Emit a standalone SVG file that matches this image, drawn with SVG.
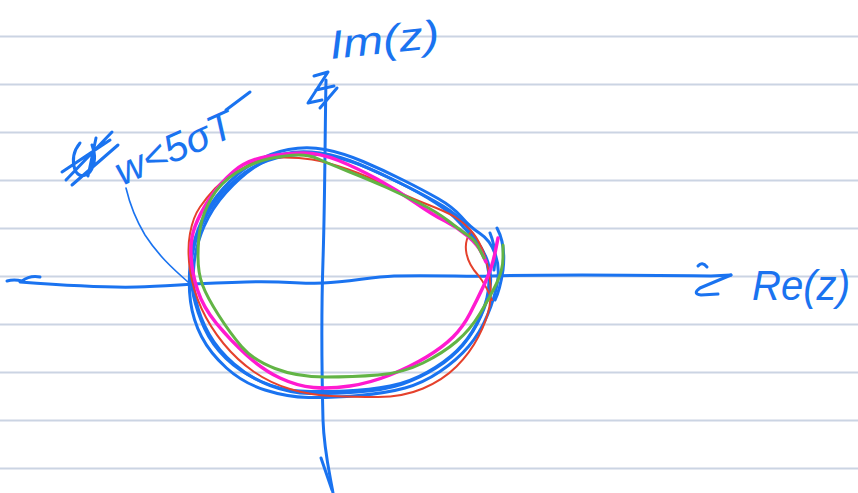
<svg xmlns="http://www.w3.org/2000/svg" width="858" height="493" viewBox="0 0 858 493">
<style>
.rule{stroke:#cbd4e3;stroke-width:2;fill:none}
.ink{fill:none;stroke-linecap:round;stroke-linejoin:round}
.b{stroke:#1a73f0;stroke-width:3}
.bt{stroke:#1a73f0;stroke-width:1.6}
.r{stroke:#e5412c;stroke-width:2}
.m{stroke:#ff1ad0;stroke-width:3.5}
.g{stroke:#62b445;stroke-width:3}
.hand{font-family:"Liberation Sans",Arial,sans-serif;fill:#1a73f0;font-style:italic}
</style>
<rect width="858" height="493" fill="#ffffff"/>
<g id="paper">
<line class="rule" x1="0" y1="36.5" x2="858" y2="36.5"/>
<line class="rule" x1="0" y1="84.5" x2="858" y2="84.5"/>
<line class="rule" x1="0" y1="132.5" x2="858" y2="132.5"/>
<line class="rule" x1="0" y1="180.5" x2="858" y2="180.5"/>
<line class="rule" x1="0" y1="228.5" x2="858" y2="228.5"/>
<line class="rule" x1="0" y1="276.5" x2="858" y2="276.5"/>
<line class="rule" x1="0" y1="324.5" x2="858" y2="324.5"/>
<line class="rule" x1="0" y1="372.5" x2="858" y2="372.5"/>
<line class="rule" x1="0" y1="420.5" x2="858" y2="420.5"/>
<line class="rule" x1="0" y1="468.5" x2="858" y2="468.5"/>
</g>
<g id="connectors">
<path id="re-axis" class="ink b" d="M20,282 C60,285 100,288 137,287 C170,286 200,283 246,282 C290,281 300,284 323,283 C350,282 370,277 394,276 C440,275 470,277 492,276 C560,274 640,275 711,276 L731,275"/>
<path class="ink b" d="M7,281 Q14,279 22,281 Q30,275 40,277"/>
<path class="ink b" d="M698,266 Q702,261 707,267 M731,275 L700,288 Q692,294 701,295 L718,294"/>
<path id="im-axis" class="ink b" d="M326,80 C325,130 325,200 323,260 C321,320 322,380 323,420 C324,450 329,470 333,493"/>
<path class="ink b" d="M321,458 L332,490"/>
<path id="pointer" class="ink bt" d="M126,188 C130,205 136,220 145,235 C158,255 172,268 188,282"/>
</g>
<g id="curves">
<path class="ink b" d="M325,149.5 Q343,153 363,161.5 Q383,170 403,180 Q423,190 438,198.5 Q453,207 461.5,217 Q470,227 480,233.5 Q490,240 495,253.5 Q500,267 497.5,282 Q495,297 487.5,315 Q480,333 468.5,346.5 Q457,360 440,371.5 Q423,383 405,388 Q387,393 358.5,395.5 Q330,398 308.5,397.5 Q287,397 265,390 Q243,383 226.5,368 Q210,353 201.5,336.5 Q193,320 190.5,301.5 Q188,283 190.5,261.5 Q193,240 201.5,221.5 Q210,203 223.5,188 Q237,173 253.5,163 Q270,153 288.5,149.5 Q307,146 325,149.5 Z"/>
<path class="ink b" d="M320,153 Q340,156 360,164.5 Q380,173 400,183 Q420,193 435,202.5 Q450,212 459,222 Q468,232 476,241 Q484,250 488,262.5 Q492,275 490,287.5 Q488,300 481,316 Q474,332 463,345 Q452,358 436,368 Q420,378 402.5,384 Q385,390 357.5,392 Q330,394 310,393.5 Q290,393 270,385.5 Q250,378 234,364 Q218,350 209,334 Q200,318 196,300.5 Q192,283 194,264 Q196,245 204,226.5 Q212,208 226,192.5 Q240,177 254,167.5 Q268,158 284,154 Q300,150 320,153 Z"/>
<path class="ink b" d="M330,156 Q350,160 370,169 Q390,178 409,187.5 Q428,197 443,206 Q458,215 466.5,226 Q475,237 481,247.5 Q487,258 488.5,271.5 Q490,285 487,297.5 Q484,310 476,325 Q468,340 456.5,351 Q445,362 427.5,372 Q410,382 390,386 Q370,390 345,391 Q320,392 300,391 Q280,390 260,381 Q240,372 226,358.5 Q212,345 204.5,328.5 Q197,312 193.5,296 Q190,280 191,265 Q192,250 198.5,232.5 Q205,215 216.5,200 Q228,185 245,172.5 Q262,160 286,156 Q310,152 330,156 Z"/>
<path class="ink b" d="M497,228 Q506,245 503,270 Q500,290 495,300 M490,233 Q497,250 494,270"/>
<path class="ink r" d="M278.5,157.5 Q297,157 312,159.5 Q327,162 348.5,169.5 Q370,177 386.5,186 Q403,195 425,203.5 Q447,212 455,217 Q463,222 470,229.5 Q477,237 482,248.5 Q487,260 489.5,276.5 Q492,293 489.5,306.5 Q487,320 478.5,336.5 Q470,353 456.5,366.5 Q443,380 423,388.5 Q403,397 378,397 Q353,397 331.5,396 Q310,395 290,389 Q270,383 253.5,371.5 Q237,360 223.5,343.5 Q210,327 201.5,308.5 Q193,290 190,270 Q187,250 190,233.5 Q193,217 200,207 Q207,197 215,188.5 Q223,180 233,174 Q243,168 251.5,163 Q260,158 278.5,157.5 Z"/>
<path class="ink r" d="M470,233 C462,245 466,262 478,275 C486,285 490,295 492,300"/>
<path class="ink m" d="M498,238 L495,253 Q492,268 484.5,284 Q477,300 470,313.5 Q463,327 453,337 Q443,347 426.5,357 Q410,367 390,375 Q370,383 350,386 Q330,389 313.5,387.5 Q297,386 280,378 Q263,370 246.5,355 Q230,340 216.5,323.5 Q203,307 197.5,290 Q192,273 191,256.5 Q190,240 195,226.5 Q200,213 210,198 Q220,183 233.5,171.5 Q247,160 267,156.5 Q287,153 303.5,153 Q320,153 338.5,160.5 Q357,168 377,179 Q397,190 415,202.5 Q433,215 445,221 Q457,227 467.5,236 Q478,245 482,253.5 L486,262"/>
<path class="ink g" d="M503,245 L503,257.5 Q503,270 496.5,283.5 Q490,297 480,313.5 Q470,330 456.5,341.5 Q443,353 423,363 Q403,373 378,375 Q353,377 325,377 Q297,377 275,368.5 Q253,360 241.5,346.5 Q230,333 218.5,315 Q207,297 202.5,285 Q198,273 198,256.5 Q198,240 200.5,226.5 Q203,213 211.5,198 Q220,183 236.5,172.5 Q253,162 270,158.5 Q287,155 298.5,155 Q310,155 318.5,159 Q327,163 348.5,171.5 Q370,180 386.5,187.5 Q403,195 420,203.5 Q437,212 448.5,221 Q460,230 467.5,235 Q475,240 479.5,249 L484,258"/>
</g>
<g id="scribbles">
<path class="ink b" d="M66,180 L112,132 M62,172 L110,140 M72,185 L118,145 M80,143 Q70,155 75,170 Q80,180 90,172 Q98,160 92,145 M96,138 L88,176"/>
<path class="ink b" d="M314,76 L328,72 L308,103 L322,100 M337,88 L320,108 M316,90 L334,86"/>
</g>
<g id="labels">
<text class="hand" x="331" y="59" font-size="40" transform="rotate(-6 331 59)" textLength="110" lengthAdjust="spacingAndGlyphs">Im(z)</text>
<text class="hand" x="752" y="300" font-size="42" textLength="98" lengthAdjust="spacingAndGlyphs">Re(z)</text>
<text class="hand" x="122" y="186" font-size="40" transform="rotate(-24 122 186)" textLength="126" lengthAdjust="spacingAndGlyphs">w&lt;5σT</text>
<path class="ink b" d="M226,110 L250,92"/>
</g>
</svg>
